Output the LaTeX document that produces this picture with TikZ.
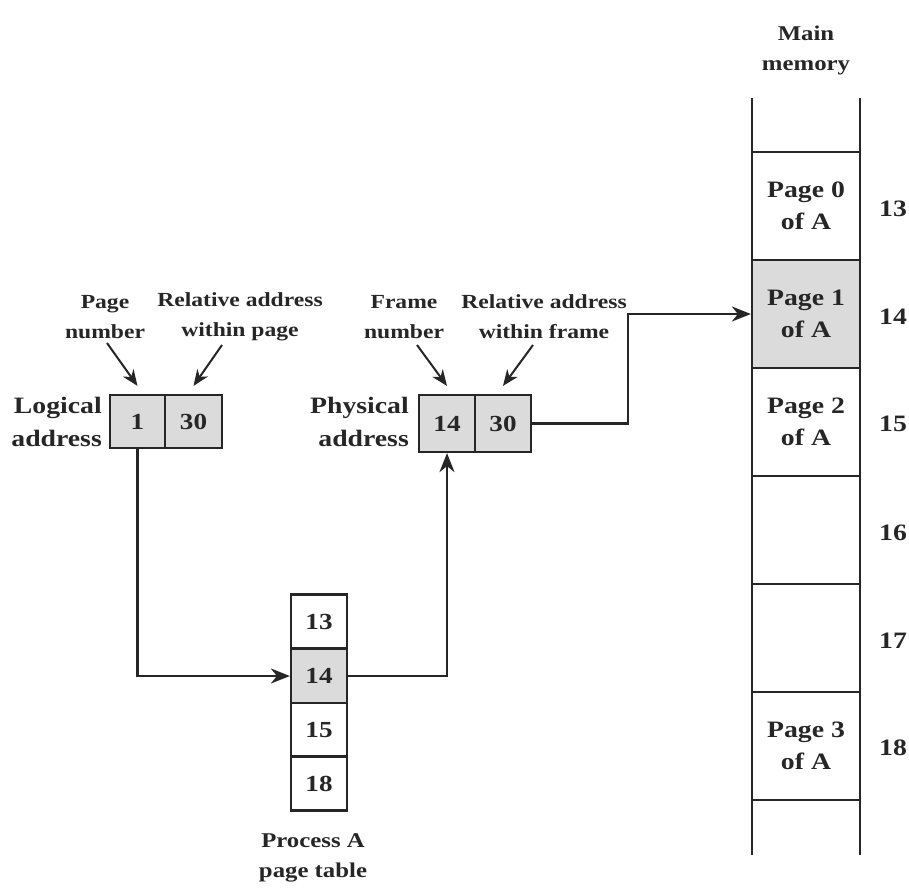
\documentclass[tikz,border=0pt]{standalone}
\usepackage{fontspec}
\setmainfont{Liberation Serif}[FakeStretch=1.18]
\usetikzlibrary{arrows.meta,calc}
\definecolor{ink}{gray}{0.15}
\definecolor{shade}{gray}{0.86}
\tikzset{
  cell/.style={draw=ink,line width=2.2pt,minimum width=#1,minimum height=54pt,inner sep=0pt,
    font=\fontsize{23}{31}\selectfont\bfseries,text=ink},
  cell/.default=56pt,
  memcell/.style={draw=ink,line width=2.2pt,minimum width=108pt,minimum height=108pt,inner sep=0pt,
    align=center,font=\fontsize{23.5}{32}\selectfont\bfseries,text=ink},
  lbl/.style={align=center,inner sep=0pt,font=\fontsize{20}{30}\selectfont\bfseries,text=ink},
  big/.style={align=center,inner sep=0pt,font=\fontsize{23.5}{33}\selectfont\bfseries,text=ink},
  conn/.style={draw=ink,line width=2.3pt,-{Stealth[length=19pt,width=15pt,inset=6pt]}},
  pointer/.style={draw=ink,line width=2pt,-{Stealth[length=16pt,width=13pt,inset=5pt]}},
  plain/.style={draw=ink,line width=2.2pt},
}
\begin{document}
\begin{tikzpicture}[x=1pt,y=-1pt]
\useasboundingbox (0,0) rectangle (909,889);

% Logical address
\node[cell=55pt,fill=shade,minimum height=53pt] (la1) at (137.5,421.5) {1};
\node[cell=57pt,fill=shade,minimum height=53pt] (la2) at (193.5,421.5) {30};
\node[big,anchor=east,align=right] (lalbl) at (102,421.5) {Logical\\address};
\node[lbl] (pn) at (105,317) {Page\\number};
\node[lbl] (rap) at (240,317) {Relative address\\within page};
\coordinate (pns) at (107,343);
\coordinate (raps) at (222,345);
\draw[pointer] (pns) -- ([yshift=8pt]la1.north);
\draw[pointer] (raps) -- ([yshift=8pt]la2.north);

% Physical address
\node[cell=56pt,fill=shade,minimum height=57pt] (pa1) at (447,423.5) {14};
\node[cell=56pt,fill=shade,minimum height=57pt] (pa2) at (503,423.5) {30};
\node[big,anchor=east,align=right] (palbl) at (409,421.5) {Physical\\address};
\node[lbl] (fn) at (404,317) {Frame\\number};
\node[lbl] (raf) at (544,317) {Relative address\\within frame};
\coordinate (fns) at (417,345);
\coordinate (rafs) at (533,345);
\draw[pointer] (fns) -- ([yshift=8pt]pa1.north);
\draw[pointer] (rafs) -- ([yshift=8pt]pa2.north);

% Page table
\node[cell] (pt13) at (319,621.5) {13};
\node[cell,fill=shade] (pt14) at (319,676) {14};
\node[cell] (pt15) at (319,730) {15};
\node[cell] (pt18) at (319,783.5) {18};
\node[lbl,font=\fontsize{21}{30}\selectfont\bfseries] (ptlbl) at (313,858) {Process A\\page table};

% Main memory
\node[lbl,font=\fontsize{21}{30}\selectfont\bfseries] (mmlbl) at (806,50) {Main\\memory};
\coordinate (mtl) at (752,98);
\coordinate (mbl) at (752,855);
\coordinate (mtr) at (860,98);
\coordinate (mbr) at (860,855);
\draw[plain] (mtl) -- (mbl);
\draw[plain] (mtr) -- (mbr);
\node[memcell] (m13) at (806,206) {Page 0\\of A};
\node[memcell,fill=shade] (m14) at (806,314) {Page 1\\of A};
\node[memcell] (m15) at (806,422) {Page 2\\of A};
\node[memcell] (m16) at (806,530) {};
\node[memcell] (m17) at (806,638) {};
\node[memcell] (m18) at (806,746) {Page 3\\of A};
\foreach \n/\yy in {13/209,14/317,15/424,16/533,17/641,18/748}
  \node[big] (num\n) at (893,\yy) {\n};

% Connectors
\coordinate (bend) at (628,0);
\draw[conn] (la1.south) |- (pt14.west);
\draw[conn] (pt14.east) -| (pa1.south);
\draw[conn] (pa2.east) -- (pa2.east -| bend) |- (m14.west);
\end{tikzpicture}
\end{document}
